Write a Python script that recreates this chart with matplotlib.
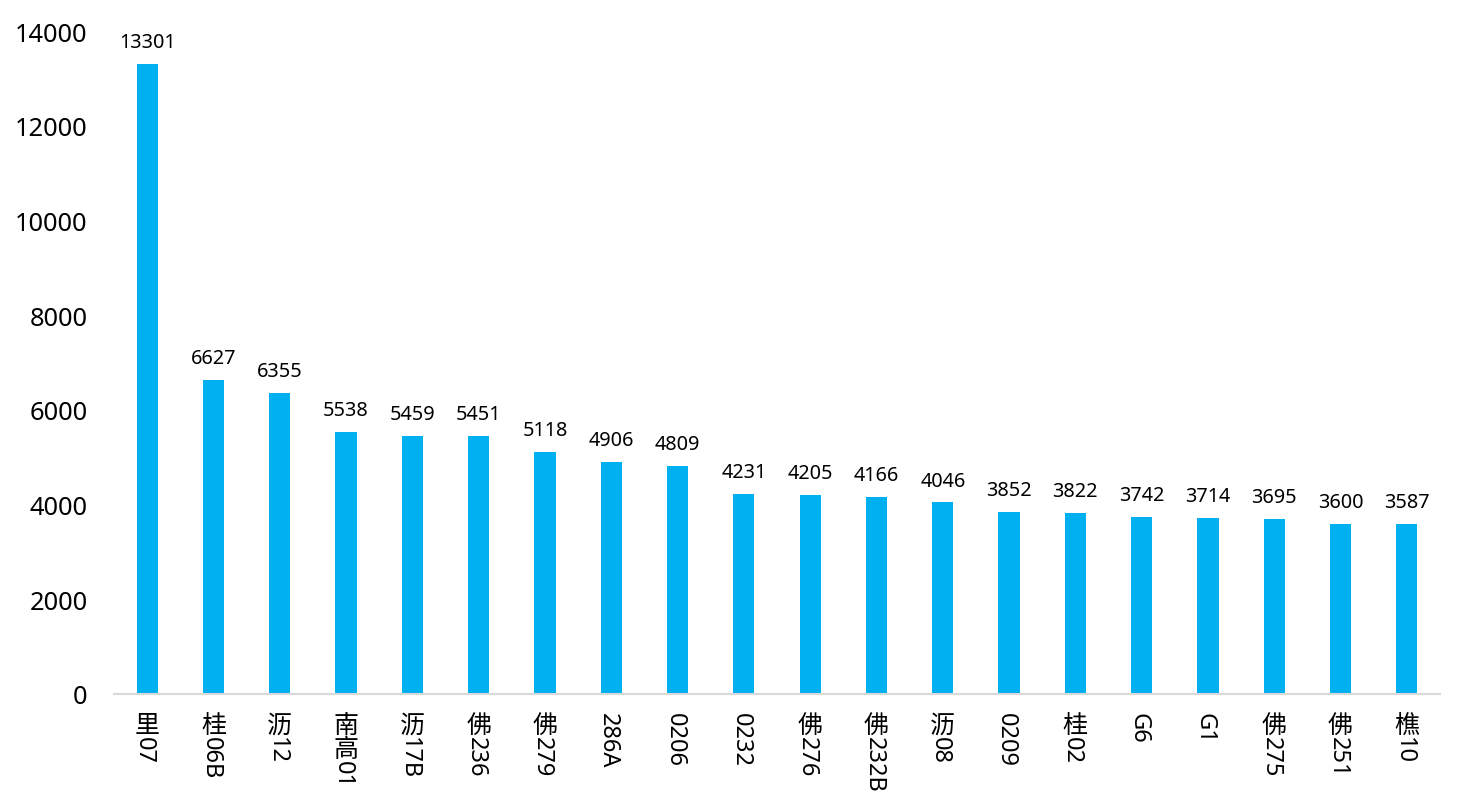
import matplotlib
matplotlib.use("Agg")
import matplotlib.pyplot as plt

plt.rcParams['font.family'] = ['Noto Sans', 'Noto Sans CJK SC', 'DejaVu Sans']

categories = ["里07", "桂06B", "沥12", "南高01", "沥17B", "佛236", "佛279", "286A", "0206", "0232",
              "佛276", "佛232B", "沥08", "0209", "桂02", "G6", "G1", "佛275", "佛251", "樵10"]
values = [13301, 6627, 6355, 5538, 5459, 5451, 5118, 4906, 4809, 4231,
          4205, 4166, 4046, 3852, 3822, 3742, 3714, 3695, 3600, 3587]
yticks = [0, 2000, 4000, 6000, 8000, 10000, 12000, 14000]

fig = plt.figure(figsize=(14.8, 8.03), dpi=100)
ax = fig.add_axes([0.077, 0.1345, 0.896, 0.8255])
x = list(range(len(categories)))
ax.bar(x, values, width=0.32, color="#00B0F0", zorder=2)
for xi, v in zip(x, values):
    ax.text(xi, v + 250, str(v), ha="center", va="bottom", fontsize=14.3, color="black")

ax.set_xlim(-0.5, len(categories) - 0.5)
ax.set_ylim(0, 14000)
ax.set_yticks(yticks)
ax.set_yticklabels([str(t) for t in yticks], fontsize=18.3)
ax.set_xticks(x)
ax.set_xticklabels([""] * len(categories))
ax.tick_params(axis="both", length=0)
ax.tick_params(axis="y", pad=19)
for s in ["top", "right", "left"]:
    ax.spines[s].set_visible(False)
ax.spines["bottom"].set_color("#D9D9D9")
ax.spines["bottom"].set_linewidth(1.5)

# vertical (stacked) category labels: CJK upright, Latin/digits rotated
cjk_step = 24
for xi, lab in zip(x, categories):
    n = 0
    while n < len(lab) and ord(lab[n]) > 0x2E80:
        n += 1
    off = 18
    for k in range(n):
        ax.annotate(lab[k], xy=(xi, 0), xycoords=("data", "axes fraction"),
                    xytext=(0, -(off + k * cjk_step)), textcoords="offset pixels",
                    ha="center", va="top", fontsize=18, family=['Noto Sans CJK SC'])
    rest = lab[n:]
    if rest:
        ax.annotate(rest, xy=(xi, 0), xycoords=("data", "axes fraction"),
                    xytext=(-3, -(off + n * cjk_step)), textcoords="offset pixels",
                    ha="center", va="top", rotation=-90, fontsize=17)

fig.savefig("out.png", dpi=100)
